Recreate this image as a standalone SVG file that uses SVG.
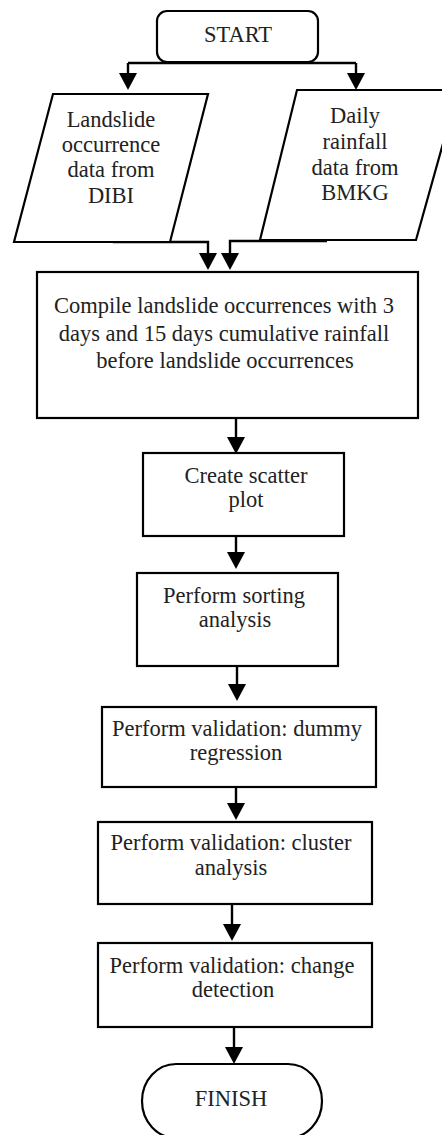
<svg xmlns="http://www.w3.org/2000/svg" width="442" height="1135" viewBox="0 0 442 1135">
<style>
.shape{fill:#fff;stroke:#000;stroke-width:2.2}
.t{font-family:"Liberation Serif","Times New Roman",serif;font-size:22.5px;fill:#222;text-anchor:middle}
.c{fill:none;stroke:#000;stroke-width:2.4}
</style>
<defs>
<marker id="ah" markerUnits="userSpaceOnUse" markerWidth="18" markerHeight="18" refX="0" refY="8.5" orient="auto" viewBox="0 0 16 17">
<path d="M0,0 L16,8.5 L0,17 Z" fill="#000"/>
</marker>
</defs>
<rect width="442" height="1135" fill="#fff"/>
<g id="connectors">
<path class="c" d="M238,62 V63 M128,63 H356 M128,63 V73" marker-end="url(#ah)"/>
<path class="c" d="M356,63 V73" marker-end="url(#ah)"/>
<path class="c" d="M113,242 H208 V253" marker-end="url(#ah)"/>
<path class="c" d="M327,241 H230 V253" marker-end="url(#ah)"/>
<path class="c" d="M236,418 V437" marker-end="url(#ah)"/>
<path class="c" d="M236,536 V552" marker-end="url(#ah)"/>
<path class="c" d="M237,666 V684" marker-end="url(#ah)"/>
<path class="c" d="M236,787 V803" marker-end="url(#ah)"/>
<path class="c" d="M232,904 V924" marker-end="url(#ah)"/>
<path class="c" d="M234,1027 V1047" marker-end="url(#ah)"/>
</g>
<g id="start">
<rect class="shape" x="157" y="11" width="161" height="51" rx="10"/>
<text class="t" x="238" y="42">START</text>
</g>
<g id="landslide-data">
<polygon class="shape" points="53,94 208,94 170,242 14,242"/>
<text class="t" x="111" y="127">Landslide</text>
<text class="t" x="111" y="152">occurrence</text>
<text class="t" x="111" y="177">data from</text>
<text class="t" x="111" y="203">DIBI</text>
</g>
<g id="rainfall-data">
<polygon class="shape" points="297,90 458,90 416,240 260,240"/>
<text class="t" x="355" y="123">Daily</text>
<text class="t" x="355" y="149">rainfall</text>
<text class="t" x="355" y="175">data from</text>
<text class="t" x="355" y="200">BMKG</text>
</g>
<g id="compile">
<rect class="shape" x="37" y="272" width="381" height="146"/>
<text class="t" x="224" y="313">Compile landslide occurrences with 3</text>
<text class="t" x="224" y="341">days and 15 days cumulative rainfall</text>
<text class="t" x="225" y="368">before landslide occurrences</text>
</g>
<g id="scatter">
<rect class="shape" x="143" y="453" width="201" height="83"/>
<text class="t" x="246" y="483">Create scatter</text>
<text class="t" x="246" y="507">plot</text>
</g>
<g id="sorting">
<rect class="shape" x="137" y="573" width="201" height="93"/>
<text class="t" x="234" y="603">Perform sorting</text>
<text class="t" x="235" y="627">analysis</text>
</g>
<g id="dummy">
<rect class="shape" x="102" y="707" width="274" height="80"/>
<text class="t" x="237" y="736">Perform validation: dummy</text>
<text class="t" x="236" y="760">regression</text>
</g>
<g id="cluster">
<rect class="shape" x="98" y="822" width="274" height="82"/>
<text class="t" x="231" y="850">Perform validation: cluster</text>
<text class="t" x="231" y="875">analysis</text>
</g>
<g id="change">
<rect class="shape" x="98" y="943" width="274" height="84"/>
<text class="t" x="232" y="973">Perform validation: change</text>
<text class="t" x="233" y="997">detection</text>
</g>
<g id="finish">
<rect class="shape" x="142" y="1064" width="180" height="74" rx="34" ry="37"/>
<text class="t" x="231" y="1106">FINISH</text>
</g>
</svg>
